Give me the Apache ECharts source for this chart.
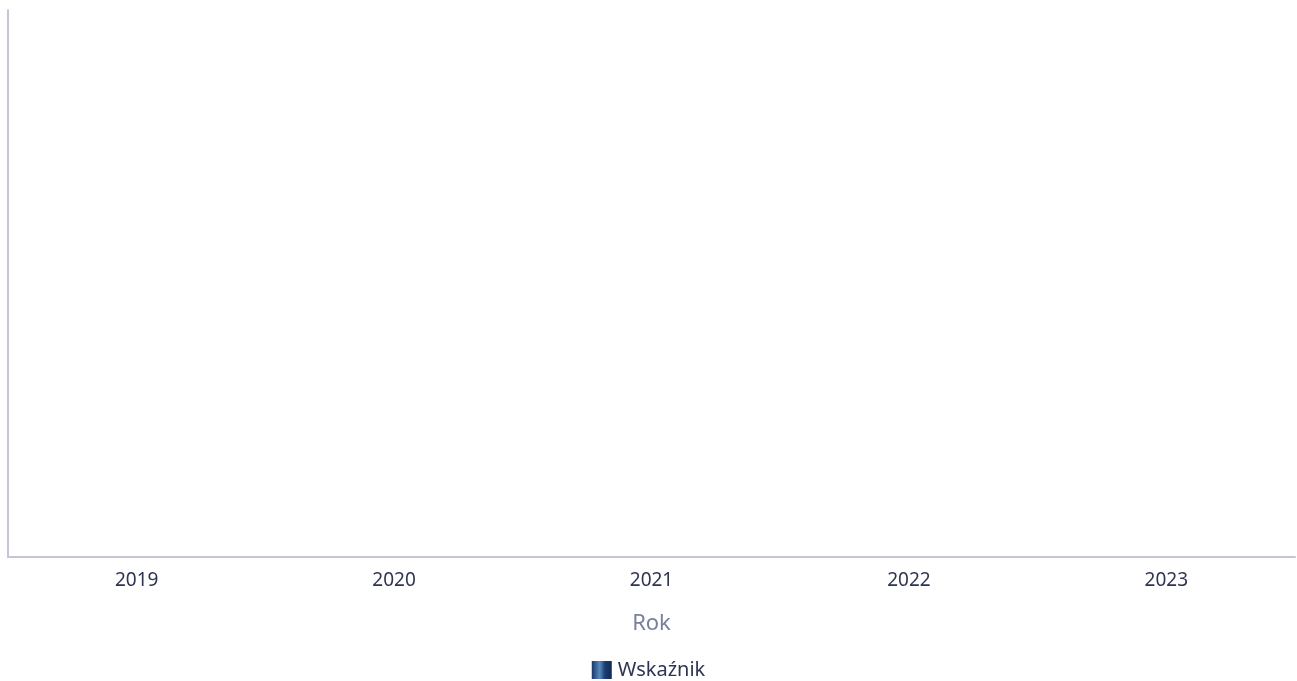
<!DOCTYPE html>
<html><head><meta charset="utf-8">
<script src="https://cdn.jsdelivr.net/npm/echarts@6/dist/echarts.min.js"></script>
<style>html,body{margin:0;padding:0;background:#fff}#c{width:1297px;height:681px}</style>
</head><body><div id="c"></div>
<script>
var categories = ['2019', '2020', '2021', '2022', '2023'];
var values = [null, null, null, null, null];
var seriesName = 'Wskaźnik';
var xName = 'Rok';

var chart = echarts.init(document.getElementById('c'));
chart.setOption({
  animation: false,
  textStyle: { fontFamily: 'Noto Sans' },
  grid: { left: 8, right: 2, top: 10, bottom: 124, containLabel: false },
  legend: {
    bottom: -4, left: 'center', itemWidth: 20, itemHeight: 18, itemGap: 10,
    icon: 'rect',
    textStyle: { fontSize: 20, color: '#2e3550', fontFamily: 'Noto Sans', padding: [0, 0, 0, 1] },
    data: [seriesName]
  },
  xAxis: {
    type: 'category', data: categories,
    name: xName, nameLocation: 'middle', nameGap: 56,
    nameTextStyle: { fontSize: 22, color: '#7a7f9f', fontFamily: 'Noto Sans' },
    axisLine: { show: true, lineStyle: { color: '#c3c5d8', width: 2 } },
    axisTick: { show: false },
    axisLabel: { fontSize: 19, color: '#2e3550', margin: 14, fontFamily: 'Noto Sans' }
  },
  yAxis: {
    type: 'value',
    axisLine: { show: true, lineStyle: { color: '#c3c5d8', width: 2 } },
    axisLabel: { show: false },
    axisTick: { show: false },
    splitLine: { show: false }
  },
  series: [{
    name: seriesName, type: 'bar', data: values,
    itemStyle: {
      color: new echarts.graphic.LinearGradient(0, 0, 1, 0, [
        { offset: 0, color: '#17386a' },
        { offset: 0.4, color: '#5a88bd' },
        { offset: 0.65, color: '#1c3f70' },
        { offset: 1, color: '#0e2a55' }
      ])
    }
  }]
});
</script></body></html>
